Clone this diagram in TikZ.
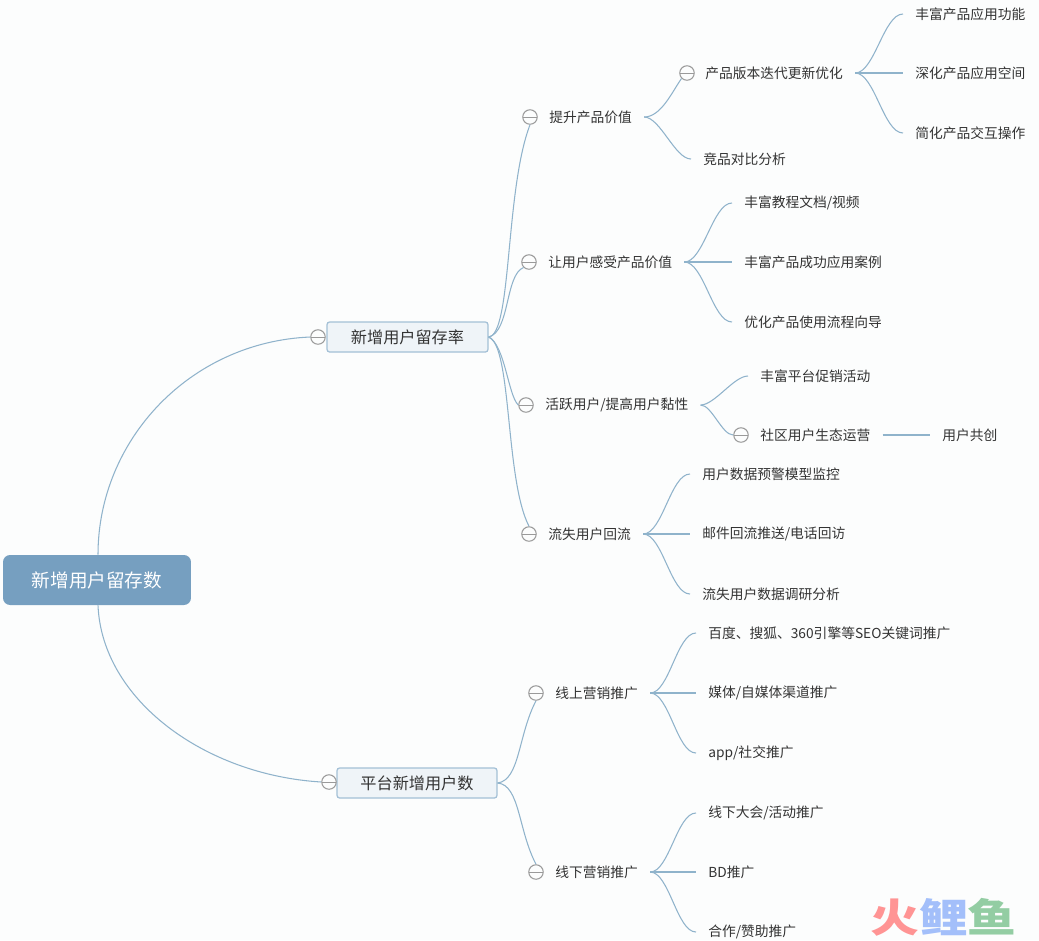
\documentclass[tikz,border=0pt]{standalone}
\usepackage{xcolor}
\usepackage{fontspec}
\setmainfont{Noto Sans CJK SC}
\usetikzlibrary{arrows.meta,positioning}
\definecolor{mmPage}{HTML}{FCFDFD}
\definecolor{mmRoot}{HTML}{769FC0}
\definecolor{mmPanel}{HTML}{EFF4F8}
\definecolor{mmBorder}{HTML}{A3C0D6}
\definecolor{mmLine}{HTML}{8FB3CB}
\definecolor{mmText}{HTML}{333333}
\definecolor{mmToggle}{HTML}{9A9A9A}
\definecolor{mmRed}{HTML}{FF9494}
\definecolor{mmBlue}{HTML}{A3BFFA}
\definecolor{mmGreen}{HTML}{93CDA3}

\begin{document}
\begin{tikzpicture}[
    x=0.02cm,y=-0.02cm,
    root/.style={fill=mmRoot,rounded corners=4pt,minimum height=1cm,minimum width=3.76cm,
                 align=center,text=white,font=\fontsize{10.6}{12}\selectfont},
    topic/.style={draw=mmBorder,line width=0.7pt,fill=mmPanel,rounded corners=1.5pt,minimum height=0.6cm,
                  align=center,text=mmText,font=\fontsize{9.2}{11}\selectfont},
    item/.style={anchor=west,inner xsep=6.8pt,inner ysep=1pt,text=mmText,font=\fontsize{7.83}{9}\selectfont},
    tgl/.style={circle,draw=mmToggle,line width=0.6pt,fill=mmPage,minimum size=2.9mm,inner sep=0pt,
                path picture={\draw[mmToggle,line width=0.5pt] (path picture bounding box.west) -- (path picture bounding box.east);}},
    lnk/.style={draw=mmLine,line width=0.6pt},
    fork/.style={lnk,out=0,in=180,looseness=0.65}
  ]
    \fill[mmPage] (0,0) rectangle (1039,940);

    \node[root]  (root) at (97,580)  {新增用户留存数};
    \node[topic,minimum width=3.22cm] (keep) at (407.5,337) {新增用户留存率};
    \node[topic,minimum width=3.2cm]  (grow) at (417,783)   {平台新增用户数};
    \node[tgl] (ckeep) at (318,337) {};
    \node[tgl] (cgrow) at (329,782) {};

    \node[tgl]  (c1)  at (530,117) {};
    \node[item] (t1)  at (537,117) {提升产品价值};
    \node[tgl]  (c2)  at (529,262) {};
    \node[item] (t2)  at (536,262) {让用户感受产品价值};
    \node[tgl]  (c3)  at (526,405) {};
    \node[item] (t3)  at (533,405) {活跃用户/提高用户黏性};
    \node[tgl]  (c4)  at (529,534) {};
    \node[item] (t4)  at (536,534) {流失用户回流};
    \node[tgl]  (c5)  at (536,693) {};
    \node[item] (t5)  at (543,693) {线上营销推广};
    \node[tgl]  (c6)  at (536,872) {};
    \node[item] (t6)  at (543,872) {线下营销推广};

    \node[tgl]  (c11) at (687,73)  {};
    \node[item] (t11) at (693,73)  {产品版本迭代更新优化};
    \node[item] (t12) at (691,159) {竞品对比分析};
    \node[item] (t111) at (903,14)  {丰富产品应用功能};
    \node[item] (t112) at (903,73)  {深化产品应用空间};
    \node[item] (t113) at (903,133) {简化产品交互操作};

    \node[item] (t21) at (732,203) {丰富教程文档/视频};
    \node[item] (t22) at (732,262) {丰富产品成功应用案例};
    \node[item] (t23) at (732,322) {优化产品使用流程向导};

    \node[item] (t31) at (748,376) {丰富平台促销活动};
    \node[tgl]  (c32) at (741,435) {};
    \node[item] (t32) at (748,435) {社区用户生态运营};
    \node[item] (t321) at (930,435) {用户共创};

    \node[item] (t41) at (690,474) {用户数据预警模型监控};
    \node[item] (t42) at (690,534) {邮件回流推送/电话回访};
    \node[item] (t43) at (690,594) {流失用户数据调研分析};

    \node[item] (t51) at (696,633) {百度、搜狐、360引擎等SEO关键词推广};
    \node[item] (t52) at (696,693) {媒体/自媒体渠道推广};
    \node[item] (t53) at (696,753) {app/社交推广};

    \node[item] (t61) at (696,813) {线下大会/活动推广};
    \node[item] (t62) at (696,872) {BD推广};
    \node[item] (t63) at (696,932) {合作/赞助推广};

    \node[inner sep=0pt,transform shape,xscale=1.05,yscale=0.85,font=\fontsize{26.5}{30}\selectfont\bfseries] (logo) at (943.5,917)
      {\textcolor{mmRed}{火}\textcolor{mmBlue}{鲤}\textcolor{mmGreen}{鱼}};

    \draw[lnk] (root.north -| 98,0) .. controls (98,440) and (190,342) .. (ckeep.west);
    \draw[lnk] (root.south -| 98,0) .. controls (102,700) and (205,775) .. (cgrow.west);

    \draw[lnk] (keep.east) .. controls (512,335) and (505,190) .. (c1.south);
    \draw[lnk] (keep.east) .. controls (510,332) and (505,275) .. (c2.south west);
    \draw[lnk] (keep.east) .. controls (505,345) and (508,395) .. (c3.west);
    \draw[lnk] (keep.east) .. controls (512,345) and (505,480) .. (c4.north);
    \draw[lnk] (grow.east) .. controls (520,780) and (518,735) .. (c5.south);
    \draw[lnk] (grow.east) .. controls (520,785) and (518,830) .. (c6.north);

    \draw[fork,in=235,looseness=0.8] (t1.east) to (c11.south west);
    \draw[fork] (t1.east) to (t12.west);
    \draw[fork] (t11.east) to (t111.west);
    \draw[fork] (t11.east) to (t112.west);
    \draw[fork] (t11.east) to (t113.west);

    \draw[fork] (t2.east) to (t21.west);
    \draw[fork] (t2.east) to (t22.west);
    \draw[fork] (t2.east) to (t23.west);

    \draw[fork] (t3.east) to (t31.west);
    \draw[fork] (t3.east) to (c32.west);
    \draw[lnk]  (t32.east) -- (t321.west);

    \draw[fork] (t4.east) to (t41.west);
    \draw[fork] (t4.east) to (t42.west);
    \draw[fork] (t4.east) to (t43.west);

    \draw[fork] (t5.east) to (t51.west);
    \draw[fork] (t5.east) to (t52.west);
    \draw[fork] (t5.east) to (t53.west);

    \draw[fork] (t6.east) to (t61.west);
    \draw[fork] (t6.east) to (t62.west);
    \draw[fork] (t6.east) to (t63.west);
  \end{tikzpicture}
\end{document}
